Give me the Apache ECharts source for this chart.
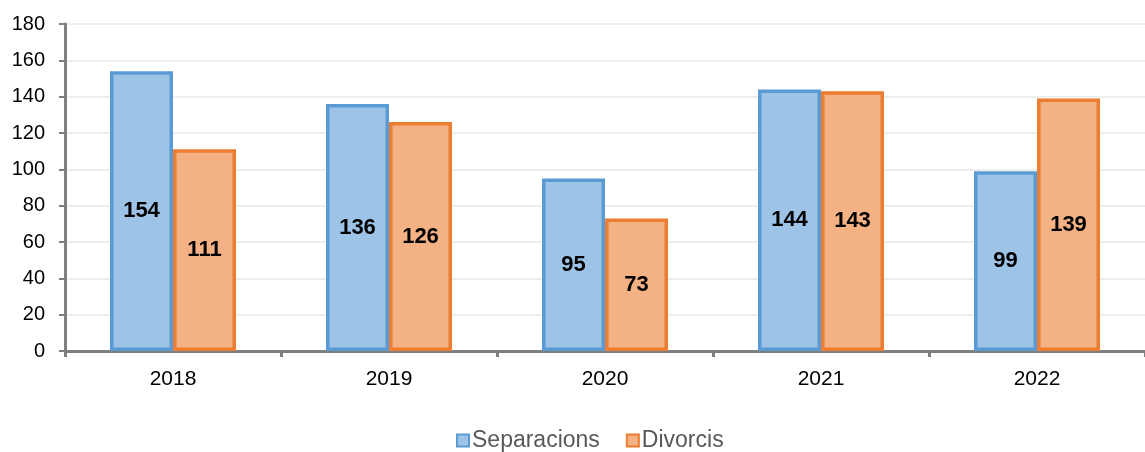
<!DOCTYPE html>
<html>
<head>
<meta charset="utf-8">
<script src="https://cdn.jsdelivr.net/npm/echarts@6/dist/echarts.min.js"></script>
<style>
  html, body { margin: 0; padding: 0; background: #fff; }
  #chart { width: 1145px; height: 452px; }
</style>
</head>
<body>
<div id="chart"></div>
<script>
const years = ["2018", "2019", "2020", "2021", "2022"];
const separacions = [154, 136, 95, 144, 99];
const divorcis = [111, 126, 73, 143, 139];
const yTicks = { min: 0, max: 180, interval: 20 };

const chart = echarts.init(document.getElementById("chart"));

const barLabel = {
  show: true,
  position: "inside",
  color: "#000",
  fontFamily: "Liberation Sans, Arial",
  fontWeight: "bold",
  fontSize: 22,
};

chart.setOption({
  animation: false,
  textStyle: { fontFamily: "Liberation Sans, Arial" },
  grid: { left: 65, top: 24, bottom: 101, width: 1088 },
  legend: {
    left: 451,
    top: 424,
    icon: "rect",
    itemWidth: 12,
    itemHeight: 12,
    itemGap: 26,
    textStyle: { color: "#595959", fontSize: 23, padding: [0, 0, 0, -2] },
    data: ["Separacions", "Divorcis"],
  },
  xAxis: {
    type: "category",
    data: years,
    axisLine: { lineStyle: { color: "#808080", width: 3 } },
    axisTick: { show: true, length: 6, lineStyle: { color: "#808080", width: 3 } },
    axisLabel: { color: "#000", fontSize: 21, margin: 18 },
  },
  yAxis: {
    type: "value",
    min: yTicks.min,
    max: yTicks.max,
    interval: yTicks.interval,
    axisLine: { show: true, lineStyle: { color: "#808080", width: 3 } },
    axisTick: { show: true, length: 6, lineStyle: { color: "#808080", width: 2 } },
    axisLabel: { color: "#000", fontSize: 20, margin: 20 },
    splitLine: { lineStyle: { color: "#eeeeee", width: 2 } },
  },
  series: [
    {
      name: "Separacions",
      type: "bar",
      data: separacions,
      barWidth: 63,
      barGap: "0%",
      itemStyle: { color: "#9DC3E6", borderColor: "#5B9BD5", borderWidth: 3.5 },
      label: barLabel,
    },
    {
      name: "Divorcis",
      type: "bar",
      data: divorcis,
      barWidth: 63,
      itemStyle: { color: "#F4B183", borderColor: "#ED7D31", borderWidth: 3.5 },
      label: barLabel,
    },
  ],
});
</script>
</body>
</html>
